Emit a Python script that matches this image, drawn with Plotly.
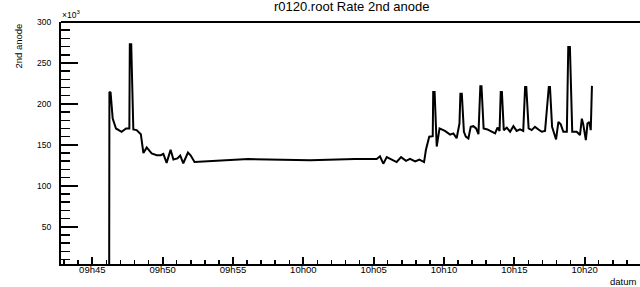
import plotly.graph_objects as go

# ---- data ----
day = "2024-01-01 "
times = [
    "09:46:12", "09:46:13", "09:46:18", "09:46:27", "09:46:41", "09:47:05", "09:47:24", "09:47:38",
    "09:47:40", "09:47:46", "09:47:55", "09:48:09", "09:48:27", "09:48:38", "09:48:52", "09:49:13",
    "09:49:35", "09:49:52", "09:50:03", "09:50:17", "09:50:34", "09:50:46", "09:51:03", "09:51:15",
    "09:51:28", "09:51:48", "09:52:00", "09:52:16", "09:56:05", "10:00:29", "10:03:41", "10:05:13",
    "10:05:27", "10:05:41", "10:05:56", "10:06:17", "10:06:38", "10:06:57", "10:07:18", "10:07:35",
    "10:07:57", "10:08:15", "10:08:35", "10:08:43", "10:08:57", "10:09:12", "10:09:14", "10:09:20",
    "10:09:29", "10:09:41", "10:10:04", "10:10:26", "10:10:40", "10:10:54", "10:11:06", "10:11:10",
    "10:11:16", "10:11:25", "10:11:33", "10:11:44", "10:11:54", "10:12:05", "10:12:17", "10:12:27",
    "10:12:35", "10:12:40", "10:12:49", "10:13:05", "10:13:24", "10:13:38", "10:13:48", "10:13:57",
    "10:14:02", "10:14:07", "10:14:15", "10:14:28", "10:14:42", "10:14:56", "10:15:10", "10:15:24",
    "10:15:38", "10:15:46", "10:15:51", "10:16:01", "10:16:14", "10:16:28", "10:16:43", "10:16:57",
    "10:17:11", "10:17:27", "10:17:32", "10:17:41", "10:17:51", "10:17:58", "10:18:08", "10:18:18",
    "10:18:29", "10:18:44", "10:18:50", "10:18:57", "10:19:07", "10:19:26", "10:19:40", "10:19:48",
    "10:19:54", "10:20:05", "10:20:12", "10:20:20", "10:20:26", "10:20:31",
]
rate = [
    0, 214600, 213700, 182000, 170000, 166000, 170000, 170000,
    272800, 272800, 168800, 168000, 163000, 140000, 146800, 139500,
    137400, 137400, 139000, 128000, 144000, 132000, 133400, 137000,
    127500, 140500, 137000, 129000, 132600, 131300, 132600, 132800,
    136000, 127000, 135000, 132000, 129000, 135000, 130500, 133000,
    129700, 132000, 129000, 144000, 160000, 160600, 214600, 214600,
    148000, 170000, 167000, 162500, 164000, 158000, 176000, 212500,
    212500, 166000, 160000, 157800, 172000, 172800, 170000, 163000,
    221600, 221600, 170000, 168800, 166000, 164000, 171000, 167000,
    214600, 214600, 168000, 171000, 166000, 172800, 167000, 168800,
    167000, 220700, 220700, 170000, 168000, 172000, 168800, 166000,
    167000, 220700, 220700, 172000, 163000, 156600, 178000, 175000,
    166000, 166000, 269500, 269500, 166000, 166000, 162000, 182000,
    175000, 155700, 176000, 178000, 168000, 222000,
]
y_tick_values = [50000, 100000, 150000, 200000, 250000, 300000]
y_tick_labels = ["50", "100", "150", "200", "250", "300"]
title_text = "r0120.root Rate 2nd anode"
x_title = "datum"
y_title = "2nd anode"

x = [day + t for t in times]

W, H = 640, 287
L, R, T, B = 61, 0, 22, 23
pw, ph = W - L - R, H - T - B

def px(xp):
    return (xp - L) / pw

def py(yp):
    return (H - B - yp) / ph

font = "Liberation Sans, Arial, Helvetica, sans-serif"

fig = go.Figure(go.Scatter(x=x, y=rate, mode="lines",
                           line=dict(color="black", width=2), hoverinfo="skip"))

fig.update_layout(
    width=W, height=H, margin=dict(l=L, r=R, t=T, b=B, autoexpand=False),
    paper_bgcolor="white", plot_bgcolor="white", showlegend=False,
    font=dict(family=font, color="black"),
)
fig.update_xaxes(
    automargin=False,
    range=[day + "09:42:46.5", day + "10:23:56"],
    tickformat="%Hh%M", tick0=day + "09:45:00", dtick=300000,
    ticks="inside", ticklen=7, tickwidth=2, tickcolor="black",
    minor=dict(dtick=60000, tick0=day + "09:45:00", ticks="inside", ticklen=4,
               tickwidth=1.5, tickcolor="black", showgrid=False),
    showline=True, linecolor="black", linewidth=2, mirror=False,
    showgrid=False, zeroline=False,
    tickfont=dict(size=9.5, family=font, color="black"),
    ticklabelstandoff=-4,
)
fig.update_yaxes(
    automargin=False,
    range=[4500, 300000],
    tickvals=y_tick_values, ticktext=y_tick_labels,
    ticks="inside", ticklen=17, tickwidth=2, tickcolor="black",
    minor=dict(dtick=10000, tick0=0, ticks="inside", ticklen=9,
               tickwidth=1.5, tickcolor="black", showgrid=False),
    showline=True, linecolor="black", linewidth=2, mirror=False,
    showgrid=False, zeroline=False,
    tickfont=dict(size=8.5, family=font, color="black"),
    ticklabelstandoff=6,
)
# top frame line
fig.add_shape(type="line", xref="paper", yref="paper", x0=0, x1=1, y0=1, y1=1,
              line=dict(color="black", width=2))

fig.add_annotation(text=title_text, xref="paper", yref="paper",
                   x=px(351), y=py(6), xanchor="center", yanchor="middle",
                   showarrow=False, font=dict(size=13, family=font, color="black"))
fig.add_annotation(text=x_title, xref="paper", yref="paper",
                   x=px(638), y=py(281), xanchor="right", yanchor="middle",
                   showarrow=False, font=dict(size=9.5, family=font, color="black"))
fig.add_annotation(text=y_title, xref="paper", yref="paper",
                   x=px(18), y=py(22), xanchor="center", yanchor="top", textangle=-90,
                   showarrow=False, font=dict(size=9.5, family=font, color="black"))
fig.add_annotation(text="×10<sup>3</sup>", xref="paper", yref="paper",
                   x=px(60), y=py(15), xanchor="left", yanchor="middle",
                   showarrow=False, font=dict(size=8.5, family=font, color="black"))

fig.write_html("out.html", config={"displayModeBar": False, "staticPlot": True},
               post_script="document.body.style.margin='0';document.body.style.padding='0';")
